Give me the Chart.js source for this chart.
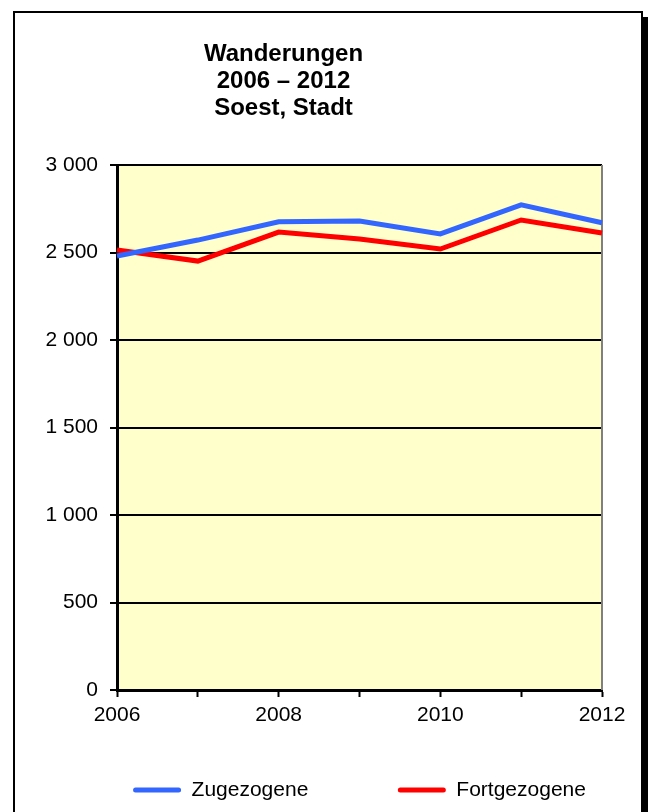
<!DOCTYPE html>
<html>
<head>
<meta charset="utf-8">
<script src="https://cdn.jsdelivr.net/npm/chart.js@4"></script>
<style>
  html, body { margin: 0; padding: 0; background: #fff; }
  body { width: 648px; height: 812px; position: relative; overflow: hidden; }
  #frame { position: absolute; left: 13px; top: 11px; width: 626px; height: 840px;
           border: 2px solid #000; background: #fff; box-shadow: 6px 6px 0 #000; }
  #title { position: absolute; left: 0; top: 39px; width: 567px; text-align: center;
           font: bold 24px 'Liberation Sans', Arial, sans-serif; line-height: 27px; color: #000; z-index: 2; }
  #c { position: absolute; left: 0; top: 0; z-index: 1; }
</style>
</head>
<body>
<div id="frame"></div>
<canvas id="c" width="648" height="812"></canvas>
<div id="title">Wanderungen<br>2006 – 2012<br>Soest, Stadt</div>
<script>
const years = ['2006', '2007', '2008', '2009', '2010', '2011', '2012'];
const zugezogene = [2480, 2571, 2676, 2680, 2606, 2772, 2670];
const fortgezogene = [2514, 2451, 2617, 2577, 2520, 2686, 2611];
const yMin = 0, yMax = 3000, yStep = 500;
const seriesNames = ['Zugezogene', 'Fortgezogene'];

const FONT = "'Liberation Sans', Arial, sans-serif";

const plotBg = {
  id: 'plotBg',
  beforeDraw(chart) {
    const a = chart.chartArea, ctx = chart.ctx;
    ctx.save();
    ctx.fillStyle = '#FFFFCC';
    ctx.fillRect(a.left, a.top, a.right - a.left, a.bottom - a.top);
    ctx.restore();
  },
  beforeDatasetsDraw(chart) {
    const a = chart.chartArea, ctx = chart.ctx;
    ctx.save();
    ctx.strokeStyle = '#808080';
    ctx.lineWidth = 2;
    ctx.beginPath();
    ctx.moveTo(a.right, a.top);
    ctx.lineTo(a.right, a.bottom);
    ctx.stroke();
    ctx.restore();
  }
};

new Chart(document.getElementById('c'), {
  type: 'line',
  data: {
    labels: years,
    datasets: [
      { label: seriesNames[0], data: zugezogene, borderColor: '#3366FF', backgroundColor: '#3366FF',
        borderWidth: 5, pointRadius: 0, tension: 0, fill: false, yAxisID: 'y' },
      { label: seriesNames[1], data: fortgezogene, borderColor: '#FF0000', backgroundColor: '#FF0000',
        borderWidth: 5, pointRadius: 0, tension: 0, fill: false, yAxisID: 'y' }
    ]
  },
  options: {
    responsive: false,
    devicePixelRatio: 1,
    animation: false,
    layout: { padding: { left: 17, right: -54, top: 165, bottom: 1.5 } },
    scales: {
      x: {
        type: 'category',
        offset: false,
        afterFit(s) { s.height = 0; },
        grid: { drawOnChartArea: false, drawTicks: true, tickLength: 7, tickColor: '#000', tickWidth: 2 },
        border: { display: true, color: '#000', width: 3 },
        ticks: {
          autoSkip: false, maxRotation: 0, mirror: true, padding: -38, color: '#000',
          font: { family: FONT, size: 21 },
          callback(v, i) { return (i % 2 === 0) ? this.getLabelForValue(v) : ''; }
        }
      },
      y: {
        position: 'left',
        min: yMin, max: yMax,
        afterFit(s) { s.width = 100; },
        grid: { color: '#000', lineWidth: 2, drawTicks: true, tickLength: 7, tickColor: '#000', tickWidth: 2 },
        border: { display: true, color: '#000', width: 3 },
        ticks: {
          stepSize: yStep, padding: 12, color: '#000',
          font: { family: FONT, size: 21 },
          callback(v) { return String(v).replace(/\B(?=(\d{3})+(?!\d))/g, ' '); }
        }
      },
      yR: {
        type: 'linear',
        position: 'right',
        display: true,
        afterFit(s) { s.width = 100; },
        grid: { display: false, drawTicks: false },
        border: { display: false },
        ticks: { display: false }
      }
    },
    plugins: {
      title: { display: false },
      tooltip: { enabled: false },
      legend: {
        display: true,
        position: 'bottom',
        align: 'center',
        labels: {
          boxWidth: 48, boxHeight: 5, padding: 89.5, color: '#000',
          font: { family: FONT, size: 21 },
          generateLabels(chart) {
            return Chart.defaults.plugins.legend.labels.generateLabels(chart).map(l =>
              Object.assign(l, { lineWidth: 0, fillStyle: l.strokeStyle, borderRadius: 2.5 }));
          }
        }
      }
    }
  },
  plugins: [plotBg]
});
</script>
</body>
</html>
